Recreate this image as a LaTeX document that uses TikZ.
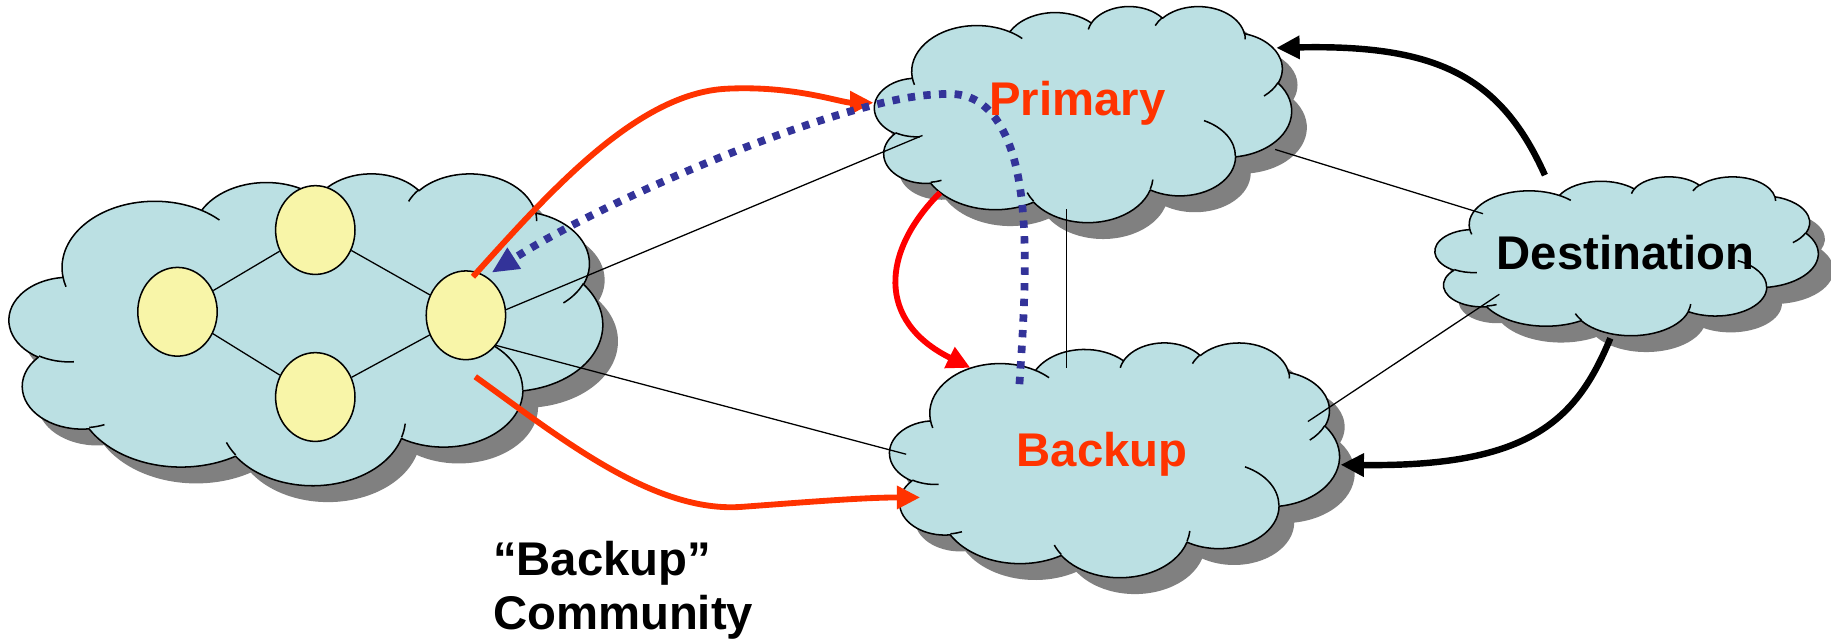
\documentclass[tikz,border=0pt]{standalone}
\usepackage{fontspec}
\setmainfont{Liberation Sans}
\usetikzlibrary{arrows.meta,shapes.geometric}

\definecolor{cloudfill}{RGB}{187,224,227}
\definecolor{cloudshade}{RGB}{128,128,128}
\definecolor{routerfill}{RGB}{248,245,168}
\definecolor{pathred}{RGB}{255,51,0}
\definecolor{purered}{RGB}{255,0,0}
\definecolor{adblue}{RGB}{51,51,153}

% one puff of the cloud outline: radii a, b; start angle and sweep given as
% angles seen from the puff centre (converted here to ellipse parameters)
\newcommand\cloudarc[4]{%
  \pgfextra{%
    \pgfmathsetmacro\cloudT{atan2((#1)*sin(#3),(#2)*cos(#3))}%
    \pgfmathsetmacro\cloudE{atan2((#1)*sin((#3)+(#4)),(#2)*cos((#3)+(#4)))-(\cloudT)}%
    \pgfmathsetmacro\cloudD{\cloudE-360*round((\cloudE-(#4))/360)}%
    \global\let\cloudT\cloudT \global\let\cloudD\cloudD}%
  arc[x radius=#1,y radius=#2,start angle=\cloudT,delta angle=\cloudD]}

% outline of a cloud in a 43.2 x 43.2 box
\newcommand\cloudouter{(3.900,14.370)
  \cloudarc{6.753}{9.190}{-190.487}{123.780}
  \cloudarc{5.333}{7.267}{-144.102}{89.945}
  \cloudarc{4.365}{5.945}{-145.808}{99.723}
  \cloudarc{4.857}{6.595}{-130.986}{117.242}
  \cloudarc{5.333}{7.273}{-78.709}{109.027}
  \cloudarc{6.775}{9.220}{-46.267}{130.269}
  \cloudarc{5.785}{7.867}{0.625}{114.033}
  \cloudarc{6.752}{9.215}{22.452}{115.173}
  \cloudarc{7.720}{10.543}{66.243}{75.711}
  \cloudarc{4.360}{5.918}{-274.942}{146.736}
  \cloudarc{4.345}{5.945}{-246.829}{152.519}
  -- cycle}

% short puff lines inside the cloud
\newcommand\cloudinner{
  (4.693,26.177) \cloudarc{4.345}{5.945}{86.742}{26.430}
  (6.928,34.899) \cloudarc{4.360}{5.918}{73.610}{11.447}
  (16.478,39.090) \cloudarc{6.752}{9.215}{137.624}{14.081}
  (28.827,34.751) \cloudarc{6.752}{9.215}{6.453}{15.998}
  (34.129,22.954) \cloudarc{5.785}{7.867}{-70.292}{70.917}
  (41.798,15.354) \cloudarc{5.333}{7.273}{30.318}{27.752}
  (38.324,5.426) \cloudarc{4.857}{6.595}{-13.744}{14.859}
  (29.078,3.952) \cloudarc{4.857}{6.595}{-149.181}{18.195}
  (22.141,4.720) \cloudarc{4.365}{5.945}{-163.494}{17.686}
  (14.000,5.192) \cloudarc{6.753}{9.190}{-66.707}{12.319}
  (4.127,15.789) \cloudarc{6.753}{9.190}{157.654}{11.854}}

% name, left, top, width, height
\newcommand\netcloud[5]{%
  \begin{scope}[shift={(#2+13,#3+14)},xscale=#4/43.2,yscale=#5/43.2]
    \fill[cloudshade] \cloudouter;
  \end{scope}
  \begin{scope}[shift={(#2,#3)},xscale=#4/43.2,yscale=#5/43.2]
    \filldraw[cloudbody] \cloudouter;
    \draw[cloudbody,fill=none] \cloudinner;
  \end{scope}
  \coordinate (#1) at (#2+#4/2,#3+#5/2);}

\tikzset{
  cloudbody/.style={draw=black,fill=cloudfill,line width=1.3pt,line join=round},
  router/.style={ellipse,draw=black,line width=1.3pt,fill=routerfill,
    minimum width=68pt,minimum height=76pt,inner sep=0pt},
  link/.style={draw=black,line width=1.1pt},
  tip/.style={-{Triangle[length=20pt,width=19pt]}},
  redpath/.style={tip,draw=pathred,line width=5pt},
  failover/.style={tip,draw=purered,line width=5pt},
  advert/.style={-{Triangle[length=23pt,width=20pt]},draw=adblue,line width=6.6pt,
    dash pattern=on 6.3pt off 7.1pt},
  announce/.style={tip,draw=black,line width=5.5pt},
  lbl/.style={font=\fontsize{40.5}{47}\selectfont\bfseries,inner sep=0pt,anchor=base west}
}

\begin{document}
\begin{tikzpicture}[x=1pt,y=-1pt]
\path[fill=white,use as bounding box] (0,0) rectangle (1568,548);

% clouds
\netcloud{as}{8}{148}{508}{267}
\netcloud{primary}{749}{5}{357}{185}
\netcloud{backup}{762}{293}{385}{201}
\netcloud{dest}{1229}{151}{328}{136}

% routers of the customer network
\node[router] (r1) at (152,267) {};
\node[router] (r2) at (270,197) {};
\node[router] (r3) at (270,340) {};
\node[router] (r4) at (399,270) {};
\draw[link] (r1) -- (r2);
\draw[link] (r1) -- (r3);
\draw[link] (r2) -- (r4);
\draw[link] (r3) -- (r4);

% attachment points on the provider clouds
\coordinate (pw) at (790,116);
\coordinate (pe) at (1092,128);
\coordinate (ps) at (913.5,179);
\coordinate (bw) at (776,389);
\coordinate (bn) at (913.5,315);
\coordinate (be) at (1120,361);
\coordinate (dw) at (1270,183);
\coordinate (dsw) at (1284,252);

\draw[link] (r4.8) -- (pw);
\draw[link] (r4.-45) -- (bw);
\draw[link] (ps) -- (bn);
\draw[link] (pe) -- (dw);
\draw[link] (be) -- (dsw);

% traffic and route announcements
\coordinate (up0) at (405,237);
\coordinate (upin) at (748,88);
\coordinate (dn0) at (407,322.6);
\coordinate (dnin) at (788,426);
\coordinate (pout) at (805,165);
\coordinate (bin) at (831,315);
\coordinate (adv0) at (873,329);
\coordinate (advend) at (421,233.5);
\coordinate (d1) at (1323,150);
\coordinate (ptop) at (1093,41);
\coordinate (d2) at (1379,289.7);
\coordinate (bright) at (1148,398);

\draw[redpath] (up0) .. controls (470,165) and (545,80) .. (622,76)
  .. controls (680,73) and (720,88) .. (upin);
\draw[redpath] (dn0) .. controls (480,375) and (560,440) .. (636,434)
  .. controls (690,430) and (740,426) .. (dnin);
\draw[failover] (pout) .. controls (755,215) and (750,275) .. (bin);
\draw[advert] (adv0) .. controls (879,240) and (884,150) .. (855,105)
  .. controls (837,77) and (815,80) .. (800,81)
  .. controls (720,85) and (520,170) .. (advend);
\draw[announce] (d1) .. controls (1285,65) and (1230,38) .. (ptop);
\draw[announce] (d2) .. controls (1350,360) and (1310,400) .. (bright);

% labels
\node[lbl,text=pathred] (tp) at (847,98.5) {Primary};
\node[lbl,text=pathred] (tb) at (870.5,399.7) {Backup};
\node[lbl] (td) at (1281.6,230.7) {Destination};
\node[lbl,align=left] (tc) at (422,539.5) {“Backup”\\Community};
\end{tikzpicture}
\end{document}
